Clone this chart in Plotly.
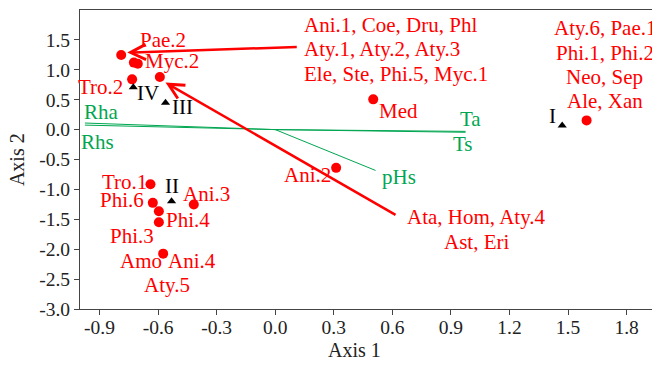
import plotly.graph_objects as go

# ---------------- data ----------------
# species scores (red dots)
species_x = [-0.789, -0.724, -0.704, -0.733, -0.591, 0.502, 1.595, 0.312,
             -0.639, -0.627, -0.596, -0.596, -0.417, -0.574]
species_y = [1.248, 1.12, 1.10, 0.84, 0.88, 0.506, 0.154, -0.64,
             -0.913, -1.225, -1.365, -1.55, -1.253, -2.074]

# site scores (black triangles)
site_labels = ["I", "II", "III", "IV"]
site_x = [1.47, -0.531, -0.562, -0.727]
site_y = [0.07, -1.198, 0.45, 0.71]

# environmental vectors (green lines from origin)
env_labels = ["Rha", "Rhs", "Ta", "Ts", "pHs"]
env_x = [-0.975, -0.975, 0.975, 0.975, 0.514]
env_y = [0.11, 0.075, -0.03, -0.045, -0.683]

# species label texts
species_labels = ["Pae.2", "Myc.2", "Tro.2", "Med", "Ani.2", "Tro.1", "Phi.6",
                  "Ani.3", "Phi.4", "Phi.3", "Amo", "Ani.4", "Aty.5"]

# grouped species label blocks
group_a_lines = ["Ani.1, Coe, Dru, Phl", "Aty.1, Aty.2, Aty.3", "Ele, Ste, Phi.5, Myc.1"]
group_b_lines = ["Aty.6, Pae.1", "Phi.1, Phi.2", "Neo, Sep", "Ale, Xan"]
group_c_lines = ["Ata, Hom, Aty.4", "Ast, Eri"]

# tick labels
x_tick_vals = [-0.9, -0.6, -0.3, 0.0, 0.3, 0.6, 0.9, 1.2, 1.5, 1.8]
x_tick_text = ["-0.9", "-0.6", "-0.3", "0.0", "0.3", "0.6", "0.9", "1.2", "1.5", "1.8"]
y_tick_vals = [1.5, 1.0, 0.5, 0.0, -0.5, -1.0, -1.5, -2.0, -2.5, -3.0]
y_tick_text = ["1.5", "1.0", "0.5", "0.0", "-0.5", "-1.0", "-1.5", "-2.0", "-2.5", "-3.0"]

# ---------------- layout helpers (positions of labels) ----------------
species_label_pos = [(-0.575, 1.494), (-0.531, 1.142), (-0.895, 0.707), (0.632, 0.305),
                     (0.164, -0.767), (-0.772, -0.884), (-0.784, -1.169), (-0.352, -1.069),
                     (-0.449, -1.504), (-0.736, -1.772), (-0.685, -2.191), (-0.426, -2.191),
                     (-0.552, -2.593)]
site_label_pos = [(1.421, 0.221), (-0.531, -0.951), (-0.474, 0.372), (-0.652, 0.606)]
env_label_pos = [(-0.890, 0.288), (-0.908, -0.214), (1.0, 0.171), (0.962, -0.248), (0.634, -0.80)]

group_a_pos = (0.138, 1.343, "left")
group_b_pos = (1.687, 1.084, "center")
group_c_pos = (1.029, -1.672, "center")
line_gap = 24.3

arrows = [((0.118, 1.382), (-0.758, 1.288)), ((0.624, -1.44), (-0.562, 0.786))]

FONT = "Liberation Serif, Times New Roman, serif"
RED = "#FF0000"
GREEN = "#00A651"
LABEL_SIZE = 21
TICK_SIZE = 19.5

fig = go.Figure()

for ex, ey in zip(env_x, env_y):
    fig.add_trace(go.Scatter(x=[0, ex], y=[0, ey], mode="lines",
                             line=dict(color=GREEN, width=1), showlegend=False,
                             hoverinfo="skip"))

fig.add_trace(go.Scatter(x=species_x, y=species_y, mode="markers",
                         marker=dict(color=RED, size=10, line=dict(width=0)),
                         showlegend=False))
fig.add_trace(go.Scatter(x=site_x, y=site_y, mode="markers",
                         marker=dict(color="black", symbol="triangle-up", size=8,
                                     line=dict(width=0)),
                         showlegend=False))

ann = []
def label(text, x, y, color, xanchor="center", yshift=0, size=LABEL_SIZE):
    ann.append(dict(text=text, x=x, y=y, xref="x", yref="y", showarrow=False,
                    xanchor=xanchor, yanchor="middle", yshift=yshift,
                    font=dict(family=FONT, size=size, color=color)))

for t, (x, y) in zip(species_labels, species_label_pos):
    label(t, x, y, RED)
for t, (x, y) in zip(site_labels, site_label_pos):
    label(t, x, y, "black")
for t, (x, y) in zip(env_labels, env_label_pos):
    label(t, x, y, GREEN)

for lines, (gx, gy, al) in [(group_a_lines, group_a_pos), (group_b_lines, group_b_pos),
                             (group_c_lines, group_c_pos)]:
    n = len(lines)
    for i, t in enumerate(lines):
        shift = ((n - 1) / 2 - i) * line_gap
        label(t, gx, gy, RED, xanchor=al, yshift=shift)

for (tx, ty), (hx, hy) in arrows:
    ann.append(dict(x=hx, y=hy, ax=tx, ay=ty, xref="x", yref="y", axref="x", ayref="y",
                    text="", showarrow=True, arrowhead=5, arrowsize=1.2, arrowwidth=2.5,
                    arrowcolor=RED, standoff=0, startstandoff=0))

# axis titles
ann.append(dict(text="Axis 1", x=0.474, y=-0.137, xref="paper", yref="paper",
                showarrow=False, xanchor="center", yanchor="middle",
                font=dict(family=FONT, size=20, color="#222")))
ann.append(dict(text="Axis 2", x=-0.1086, y=0.498, xref="paper", yref="paper",
                showarrow=False, xanchor="center", yanchor="middle", textangle=-90,
                font=dict(family=FONT, size=20, color="#222")))

fig.update_layout(
    width=652, height=357,
    margin=dict(l=72, r=0, t=2, b=56),
    paper_bgcolor="white", plot_bgcolor="white",
    annotations=ann,
    font=dict(family=FONT, size=TICK_SIZE, color="#222"),
)
fig.update_xaxes(range=[-1.0, 1.971], tickvals=x_tick_vals, ticktext=x_tick_text,
                 showgrid=False, zeroline=False, showline=True, mirror=True,
                 linecolor="#444", linewidth=1, ticks="outside", ticklen=5,
                 ticklabelstandoff=-4,
                 tickcolor="#444", tickfont=dict(family=FONT, size=TICK_SIZE, color="#222"))
fig.update_yaxes(range=[-3.0, 2.0], tickvals=y_tick_vals, ticktext=y_tick_text,
                 showgrid=False, zeroline=False, showline=True, mirror=False,
                 linecolor="#444", linewidth=1, ticks="outside", ticklen=5,
                 tickcolor="#444", tickfont=dict(family=FONT, size=TICK_SIZE, color="#222"))

fig.write_html("out.html")
